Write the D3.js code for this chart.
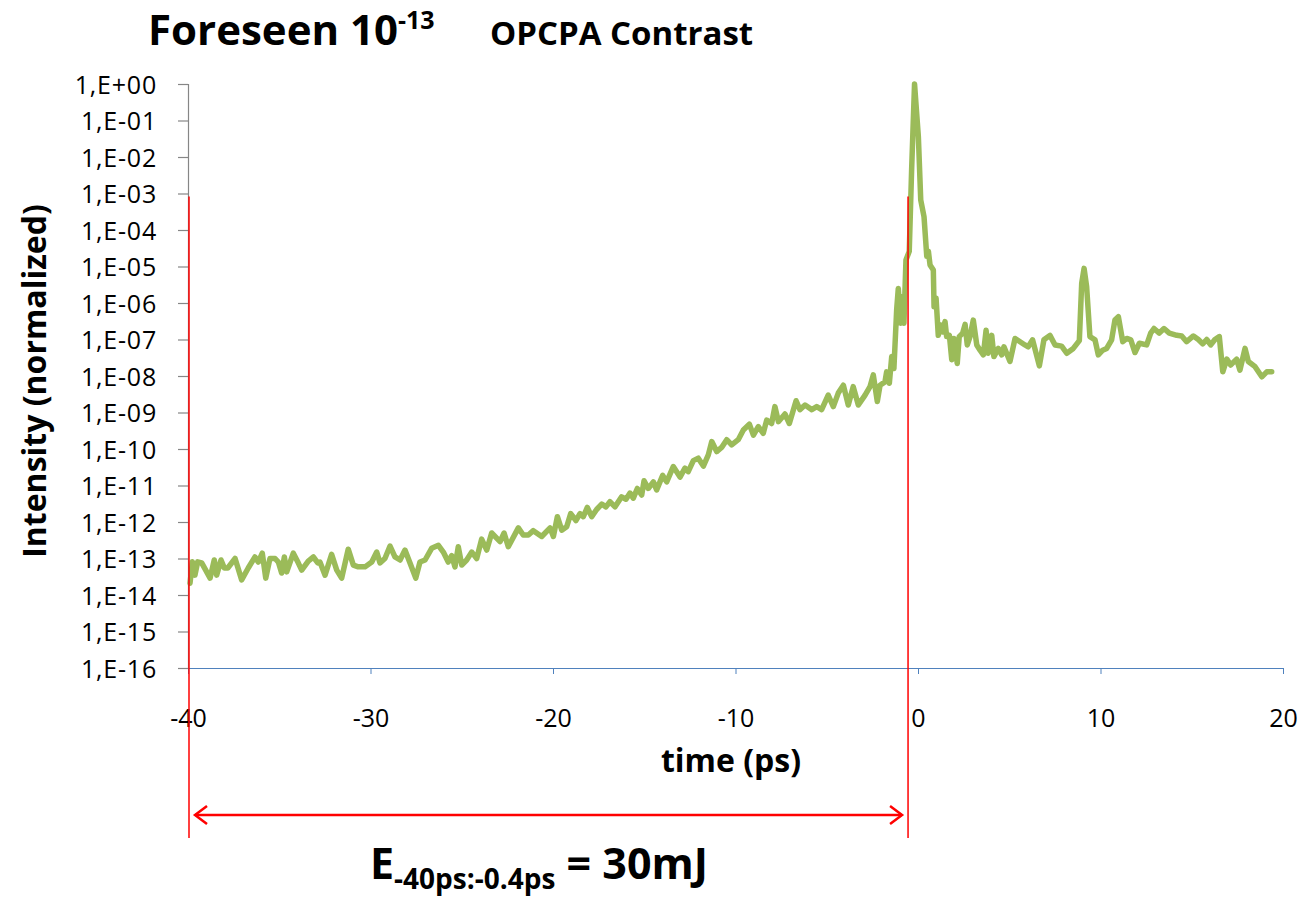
<!DOCTYPE html>
<html><head><meta charset="utf-8">
<script src="https://cdn.jsdelivr.net/npm/d3@7"></script>
<style>body{margin:0;background:#fff}svg{display:block}text{font-family:"Open Sans",Lato,sans-serif}</style>
</head><body>
<svg id="c" width="1304" height="900"></svg>
<script>
// time in ps
const times = [-39.89,-39.76,-39.62,-39.47,-39.25,-39.03,-38.79,-38.56,-38.43,-38.19,-38.01,-37.82,-37.42,-37.06,-36.70,-36.33,-36.15,-35.93,-35.74,-35.51,-35.23,-35.05,-34.87,-34.72,-34.59,-34.23,-33.96,-33.77,-33.41,-33.13,-32.89,-32.77,-32.49,-32.13,-31.85,-31.58,-31.22,-30.94,-30.67,-30.30,-29.93,-29.66,-29.48,-29.21,-28.93,-28.66,-28.38,-28.11,-27.84,-27.52,-27.29,-27.01,-26.65,-26.28,-26.01,-25.74,-25.55,-25.37,-25.19,-25.00,-24.73,-24.45,-24.18,-23.91,-23.63,-23.36,
-22.90,-22.68,-22.45,-21.90,-21.63,-21.35,-21.08,-20.62,-20.16,-19.98,-19.76,-19.52,-19.25,-19.03,-18.74,-18.52,-18.34,-18.12,-17.88,-17.61,-17.33,-17.10,-16.88,-16.60,-16.24,-16.00,-15.78,-15.60,-15.38,-15.14,-15.01,-14.78,-14.50,-14.32,-13.99,-13.77,-13.41,-13.04,-12.77,-12.59,-12.31,-12.04,-11.76,-11.49,-11.30,-11.03,-10.76,-10.48,-10.21,-9.85,-9.57,-9.24,-9.02,-8.75,-8.48,-8.29,-8.02,-7.84,-7.65,-7.29,-7.05,-6.68,-6.47,-6.19,-5.82,-5.55,-5.28,-4.92,-4.64,-4.37,-4.09,-3.82,-3.55,-3.27,-2.90,-2.63,-2.45,-2.23,
-2.08,-1.81,-1.72,-1.57,-1.44,-1.32,-1.17,-1.08,-0.95,-0.84,-0.77,-0.66,-0.48,-0.35,-0.19,0.02,0.15,0.33,0.48,0.57,0.66,0.84,0.88,0.99,1.11,1.24,1.35,1.48,1.57,1.72,1.85,1.97,2.15,2.26,2.45,2.58,2.70,2.85,3.03,3.22,3.40,3.58,3.73,3.85,4.04,4.16,4.40,4.59,4.71,5.04,5.32,5.59,5.86,6.04,6.28,6.65,6.90,7.23,7.51,7.87,8.15,8.51,8.84,8.97,9.10,9.24,9.42,9.70,9.88,10.12,10.34,10.61,10.79,10.98,11.22,11.44,11.66,11.89,12.13,12.53,12.75,12.93,13.22,13.48,13.77,14.18,14.45,14.72,15.09,15.36,15.60,15.82,16.04,16.27,16.51,16.70,16.92,17.13,17.46,17.64,17.92,18.10,18.47,18.84,19.11,19.38];
// normalized intensity
const intensity = [2.1e-14,8.1e-14,3.5e-14,8.1e-14,7.6e-14,4.8e-14,2.9e-14,9.1e-14,3.5e-14,9.1e-14,5.5e-14,5.5e-14,1.0e-13,2.6e-14,5.5e-14,1.1e-13,8.0e-14,1.4e-13,2.9e-14,1.0e-13,1.0e-13,8.0e-14,4.0e-14,1.1e-13,4.3e-14,1.4e-13,7.6e-14,4.8e-14,8.5e-14,1.1e-13,7.6e-14,8.0e-14,3.5e-14,1.3e-13,4.8e-14,2.9e-14,1.8e-13,6.6e-14,5.9e-14,5.9e-14,8.0e-14,1.5e-13,7.6e-14,1.0e-13,2.2e-13,1.1e-13,9.1e-14,1.7e-13,7.6e-14,2.9e-14,8.0e-14,9.1e-14,1.9e-13,2.3e-13,1.5e-13,8.0e-14,1.2e-13,5.9e-14,2.1e-13,6.6e-14,9.1e-14,1.5e-13,1.0e-13,3.4e-13,1.7e-13,5.0e-13,
2.9e-13,5.0e-13,2.1e-13,6.9e-13,4.4e-13,4.4e-13,5.8e-13,4.0e-13,6.9e-13,4.0e-13,1.4e-12,6.0e-13,7.4e-13,1.7e-12,1.1e-12,1.7e-12,1.4e-12,2.5e-12,1.4e-12,2.2e-12,3.1e-12,2.6e-12,3.6e-12,2.6e-12,4.9e-12,4.2e-12,6.2e-12,4.5e-12,8.3e-12,5.5e-12,1.35e-11,8.3e-12,1.26e-11,7.6e-12,1.9e-11,1.26e-11,3.3e-11,1.7e-11,3.0e-11,2.4e-11,4.8e-11,5.6e-11,3.4e-11,6.9e-11,1.6e-10,8.5e-11,1.1e-10,1.8e-10,1.3e-10,1.8e-10,3.3e-10,4.8e-10,2.4e-10,4.1e-10,2.7e-10,6.2e-10,5.0e-10,1.45e-9,5.6e-10,9.1e-10,5.0e-10,2.1e-9,1.2e-9,1.6e-9,1.2e-9,1.45e-9,1.2e-9,3.0e-9,1.45e-9,3.4e-9,5.6e-9,1.6e-9,5.1e-9,1.6e-9,3.0e-9,5.1e-9,1.07e-8,2.0e-9,
5.6e-9,6.9e-9,1.3e-8,6.3e-9,3.4e-8,1.6e-8,6.4e-7,2.5e-6,2.8e-7,1.5e-6,2.8e-7,1.5e-5,2.6e-5,4.4e-3,1.0,3.6e-2,6.6e-4,2.3e-4,1.9e-5,2.6e-5,1.1e-5,8.0e-6,7.9e-7,1.35e-6,1.3e-7,2.5e-7,1.6e-7,3.1e-7,1.2e-7,1.3e-7,2.8e-8,1.07e-7,2.2e-8,1.2e-7,1.5e-7,2.6e-7,7.1e-8,1.2e-7,3.4e-7,7.1e-8,5.1e-8,3.8e-8,1.8e-7,4.2e-8,1.3e-7,3.4e-8,5.7e-8,3.8e-8,6.3e-8,2.5e-8,1.07e-7,8.7e-8,7.1e-8,6.3e-8,9.8e-8,1.9e-8,9.8e-8,1.3e-7,7.1e-8,6.6e-8,4.2e-8,5.7e-8,9.3e-8,3.5e-6,8.9e-6,2.8e-6,1.2e-7,9.8e-8,3.8e-8,5.1e-8,5.7e-8,9.8e-8,3.4e-7,4.2e-7,8.7e-8,1.07e-7,9.8e-8,4.4e-8,7.9e-8,7.1e-8,1.5e-7,2.0e-7,1.5e-7,2.0e-7,1.5e-7,1.3e-7,1.25e-7,8.7e-8,1.25e-7,1.0e-7,7.6e-8,1.0e-7,7.1e-8,1.0e-7,1.2e-7,1.3e-8,2.9e-8,2.0e-8,2.9e-8,1.45e-8,5.7e-8,2.5e-8,1.8e-8,9.5e-9,1.3e-8,1.3e-8];
const yTickLabels = ["1,E+00","1,E-01","1,E-02","1,E-03","1,E-04","1,E-05","1,E-06","1,E-07","1,E-08","1,E-09","1,E-10","1,E-11","1,E-12","1,E-13","1,E-14","1,E-15","1,E-16"];
const xTicks = [-40,-30,-20,-10,0,10,20];
const windowStart = -40, windowEnd = -0.6; // energy integration window markers (ps)

const svg = d3.select("#c");
const x = d3.scaleLinear().domain([-40,20]).range([188,1283]);
const y = d3.scaleLog().domain([1e-16,1]).range([668,84]);
const yVals = yTickLabels.map((d,i)=>Math.pow(10,-i));

// data line
const line = d3.line().x((d,i)=>x(times[i])).y((d,i)=>y(intensity[i]));
svg.append("path").datum(intensity).attr("d",line).attr("fill","none")
  .attr("stroke","#9BBB59").attr("stroke-width",5.5).attr("stroke-linejoin","round").attr("stroke-linecap","round");

// y axis
const ya = svg.append("g").attr("transform","translate(188,0)")
  .call(d3.axisLeft(y).tickValues(yVals).tickSize(10).tickFormat((d,i)=>yTickLabels[i]));
ya.select(".domain").attr("stroke","#868686").attr("stroke-width",1.2);
ya.selectAll(".tick line").attr("stroke","#868686").attr("stroke-width",1.2);
ya.selectAll(".tick text").attr("x",-31).attr("dy","0.36em").attr("font-size",25).attr("letter-spacing",0.8).attr("fill","#000").attr("font-family","Open Sans");

// x axis
const xa = svg.append("g").attr("transform","translate(0,668)")
  .call(d3.axisBottom(x).tickValues(xTicks).tickSize(6).tickSizeOuter(0).tickFormat(d=>String(d)));
xa.select(".domain").attr("stroke","#4F81BD").attr("stroke-width",1);
xa.selectAll(".tick line").attr("stroke","#4F81BD").attr("stroke-width",1);
xa.selectAll(".tick text").attr("y",59).attr("dy",0).attr("font-size",25).attr("fill","#000").attr("font-family","Open Sans");

// red markers
[windowStart, windowEnd].forEach(t=>{
  svg.append("line").attr("x1",x(t)+1).attr("x2",x(t)+1).attr("y1",y(1e-3)+3).attr("y2",838)
    .attr("stroke","#ff0000").attr("stroke-width",1.5);
});
const ay = 815, ax1 = x(windowStart)+7, ax2 = x(windowEnd)-5;
svg.append("line").attr("x1",ax1).attr("x2",ax2).attr("y1",ay).attr("y2",ay).attr("stroke","#ff0000").attr("stroke-width",2.5);
svg.append("path").attr("d",`M${ax1+12},${ay-9} L${ax1},${ay} L${ax1+12},${ay+9}`).attr("fill","none").attr("stroke","#ff0000").attr("stroke-width",2.5);
svg.append("path").attr("d",`M${ax2-12},${ay-9} L${ax2},${ay} L${ax2-12},${ay+9}`).attr("fill","none").attr("stroke","#ff0000").attr("stroke-width",2.5);

// titles
const t1 = svg.append("text").attr("x",148).attr("y",45).attr("font-size",42).attr("font-weight","bold").attr("fill","#000");
t1.append("tspan").text("Foreseen 10");
t1.append("tspan").attr("font-size",25).attr("dy",-16).text("-13");
svg.append("text").attr("x",490).attr("y",45).attr("font-size",33).attr("font-weight","bold").attr("fill","#000").text("OPCPA Contrast");

svg.append("text").attr("transform","translate(46,381) rotate(-90)").attr("text-anchor","middle")
  .attr("font-size",32).attr("font-weight","bold").attr("fill","#000").text("Intensity (normalized)");
svg.append("text").attr("x",731).attr("y",772).attr("text-anchor","middle")
  .attr("font-size",32).attr("font-weight","bold").attr("fill","#000").text("time (ps)");

const e = svg.append("text").attr("x",370).attr("y",879).attr("font-size",43).attr("font-weight","bold").attr("fill","#000");
e.append("tspan").text("E");
e.append("tspan").attr("font-size",28).attr("dy",10).text("-40ps:-0.4ps");
e.append("tspan").attr("dy",-10).text(" = 30mJ");
</script>
</body></html>
